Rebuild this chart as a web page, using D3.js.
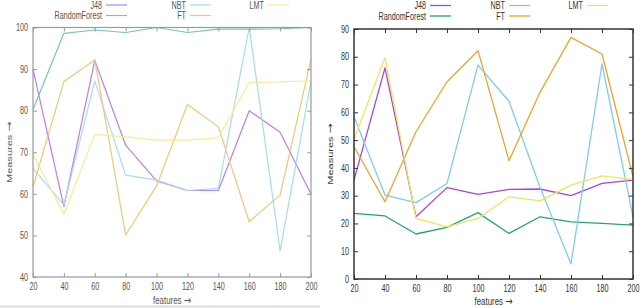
<!DOCTYPE html>
<html><head><meta charset="utf-8">
<script src="https://cdn.jsdelivr.net/npm/d3@7"></script>
<style>
body{margin:0;background:#fff}
svg{display:block}
text{font-family:"Liberation Sans",Arial,sans-serif;font-size:10px}
</style>
</head><body>
<svg id="c" width="640" height="308"></svg>
<script>
// ---- data ----
const features = [20, 40, 60, 80, 100, 120, 140, 160, 180, 200];
const seriesNames = ["J48", "RandomForest", "NBT", "FT", "LMT"];

const leftJ48 = [90, 56.9, 92.1, 71.7, 63.1, 60.8, 60.8, 80, 74.8, 59.9];
const leftRF  = [80.3, 98.6, 99.4, 98.8, 100, 98.8, 99.6, 99.6, 99.7, 100];
const leftNBT = [66.1, 57.3, 87.1, 64.5, 63.3, 60.8, 61.3, 100, 46.3, 87];
const leftFT  = [61.7, 87, 92.2, 50.1, 61.9, 81.5, 76.1, 53.3, 59.7, 92.4];
const leftLMT = [69.5, 55.1, 74.3, 73.7, 72.9, 72.9, 73.5, 86.8, 86.9, 87.2];

const rightJ48 = [35.6, 76, 22.4, 32.9, 30.5, 32.3, 32.4, 30, 34.4, 35.6];
const rightRF  = [23.6, 22.7, 16.2, 18.6, 23.9, 16.4, 22.4, 20.6, 20, 19.4];
const rightNBT = [58.4, 30.2, 27.5, 34.4, 77, 64, 33, 5.4, 77.4, 22.4];
const rightFT  = [47.6, 27.8, 53, 71, 82.2, 42.6, 67.2, 87, 81, 36.8];
const rightLMT = [50.3, 79.7, 21.8, 18.8, 21.8, 29.6, 28.1, 33.8, 37.1, 35.9];

const leftYTicks  = [40, 50, 60, 70, 80, 90, 100];
const rightYTicks = [0, 10, 20, 30, 40, 50, 60, 70, 80, 90];
const xLabel = "features";
const yLabel = "Measures";
const arrow = "\u2192";

const leftColors  = ["#bd7cf0", "#72caa9", "#a6dbf3", "#f3c575", "#f6ec94"];
const rightColors = ["#a844e6", "#1fa57e", "#7ecbf2", "#eea42b", "#f3e35a"];

// ---- drawing ----
const SX = 0.72; // horizontal squish of the original image
const svg = d3.select("#c");

function squish(sel) {
  sel.attr("transform", `scale(${SX},1)`);
}

function titled(t, label) {
  t.style("font-size", "11px");
  t.append("tspan").text(label + " ");
  t.append("tspan").style("font-family", '"DejaVu Sans",sans-serif').style("font-size", "12px").text(arrow);
}

function panel(o) {
  const g = svg.append("g");
  const x = d3.scaleLinear().domain([20, 200]).range([o.x0, o.x1]);
  const y = d3.scaleLinear().domain(o.yDomain).range([o.y0, o.y1]);

  // lines
  const line = d3.line().x((d, i) => x(features[i])).y(d => y(d));
  o.series.forEach((s, k) => {
    g.append("path").datum(s)
      .attr("fill", "none")
      .attr("stroke", o.colors[k])
      .attr("stroke-width", o.lw)
      .attr("stroke-linejoin", "round")
      .attr("d", line);
  });

  // axes
  const ax = (gen, tr, labels) => {
    const a = g.append("g").attr("transform", tr).call(gen);
    a.select(".domain").remove();
    a.selectAll("line").attr("stroke", o.axisColor);
    a.selectAll("text").attr("fill", o.textColor).style("font-size", "10px")
      .style("font-family", '"Liberation Sans",Arial,sans-serif');
    if (labels) squish(a.selectAll("text")); else a.selectAll("text").remove();
    return a;
  };
  ax(d3.axisBottom(x).tickValues(features).tickSizeInner(-4).tickSizeOuter(0).tickPadding(6),
     `translate(0,${o.y0})`, true);
  ax(d3.axisTop(x).tickValues(features).tickSizeInner(-4).tickSizeOuter(0),
     `translate(0,${o.y1})`, false);
  ax(d3.axisLeft(y).tickValues(o.yTicks).tickSizeInner(-4).tickSizeOuter(0).tickPadding(7),
     `translate(${o.x0},0)`, true);
  ax(d3.axisRight(y).tickValues(o.yTicks).tickSizeInner(-4).tickSizeOuter(0),
     `translate(${o.x1},0)`, false);

  // frame
  g.append("rect")
    .attr("x", o.x0).attr("y", o.y1)
    .attr("width", o.x1 - o.x0).attr("height", o.y0 - o.y1)
    .attr("fill", "none").attr("stroke", o.axisColor).attr("stroke-width", o.fw);

  // axis titles
  titled(g.append("text")
    .attr("transform", `translate(${(o.x0 + o.x1) / 2},${o.xlabY}) scale(${SX},1)`)
    .attr("text-anchor", "middle").attr("fill", o.textColor), xLabel);
  titled(g.append("text")
    .attr("transform", `translate(${o.ylabX},${(o.y0 + o.y1) / 2}) scale(${SX},1) rotate(-90)`)
    .attr("text-anchor", "middle").attr("fill", o.textColor), yLabel);

  // legend (gnuplot: columns of two rows)
  seriesNames.forEach((name, i) => {
    const col = Math.floor(i / 2), row = i % 2;
    const te = o.legCols[col], ly = o.legRows[row];
    g.append("text")
      .attr("transform", `translate(${te},${ly + 3.5}) scale(${SX},1)`)
      .attr("text-anchor", "end").attr("fill", o.textColor).text(name);
    g.append("line")
      .attr("x1", te + 4).attr("x2", te + 25)
      .attr("y1", ly).attr("y2", ly)
      .attr("stroke", o.colors[i]).attr("stroke-width", o.lw);
  });
}

panel({
  x0: 33, x1: 311, y0: 277, y1: 27.5,
  yDomain: [40, 100], yTicks: leftYTicks,
  series: [leftJ48, leftRF, leftNBT, leftFT, leftLMT],
  colors: leftColors, lw: 1.2, fw: 1.2,
  axisColor: "#9a9a9a", textColor: "#555",
  xlabY: 304, ylabX: 12,
  legCols: [102, 186, 264], legRows: [5, 15.5]
});

panel({
  x0: 354, x1: 633, y0: 279, y1: 29,
  yDomain: [0, 90], yTicks: rightYTicks,
  series: [rightJ48, rightRF, rightNBT, rightFT, rightLMT],
  colors: rightColors, lw: 1.3, fw: 1.5,
  axisColor: "#333", textColor: "#333",
  xlabY: 305, ylabX: 333,
  legCols: [426, 505, 583], legRows: [5.5, 16]
});

// faint border under the left picture
svg.append("line").attr("x1", 0).attr("x2", 320).attr("y1", 306.5).attr("y2", 306.5)
  .attr("stroke", "#dcdcdc").attr("stroke-width", 2);
</script>
</body></html>
